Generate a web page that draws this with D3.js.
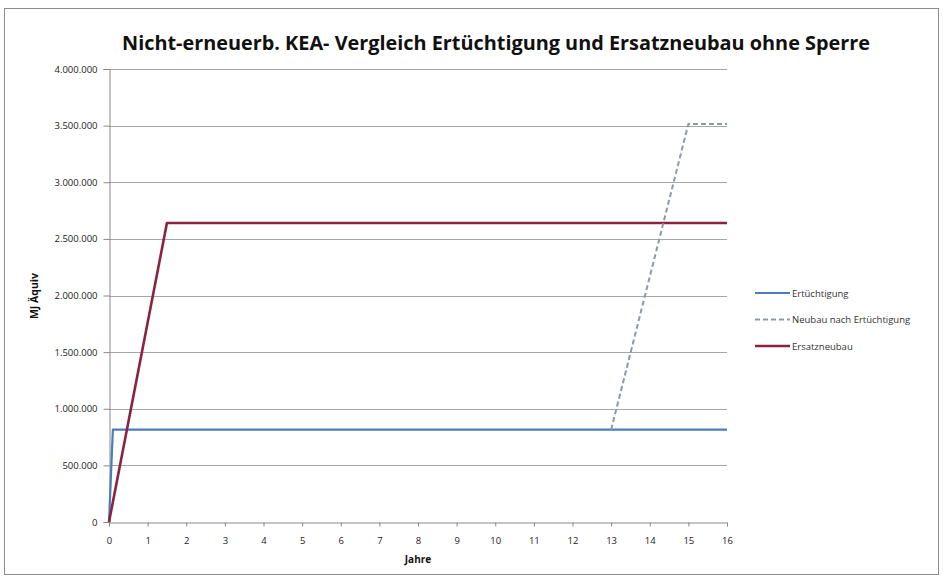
<!DOCTYPE html>
<html><head><meta charset="utf-8">
<script src="https://cdn.jsdelivr.net/npm/d3@7"></script>
<style>body{margin:0;background:#fff}</style>
</head><body>
<svg id="c" width="943" height="579"></svg>
<script>
const title = "Nicht-erneuerb. KEA- Vergleich Ertüchtigung und Ersatzneubau ohne Sperre";
const yTicks = [0, 500000, 1000000, 1500000, 2000000, 2500000, 3000000, 3500000, 4000000];
const xTicks = [0,1,2,3,4,5,6,7,8,9,10,11,12,13,14,15,16];
const seriesNames = ["Ertüchtigung", "Neubau nach Ertüchtigung", "Ersatzneubau"];
const ertX = [0, 0.1, 16];
const ertY = [0, 815000, 815000];
const neuX = [13, 15, 16];
const neuY = [815000, 3515000, 3515000];
const ersX = [0, 1.5, 16];
const ersY = [0, 2640000, 2640000];

const svg = d3.select("#c");
const fmt = v => d3.format(",")(v).replace(/,/g, ".");
const x = d3.scaleLinear().domain([0,16]).range([109,727]);
const y = d3.scaleLinear().domain([0,4000000]).range([522,69]);

svg.append("rect").attr("x",4.5).attr("y",8.5).attr("width",934).attr("height",566)
  .attr("fill","#fff").attr("stroke","#8c8c8c").attr("stroke-width",1);

svg.append("text").attr("x",496).attr("y",50).attr("text-anchor","middle")
  .attr("font-family","Open Sans, sans-serif").attr("font-weight","bold")
  .attr("font-size",19).attr("textLength",748).attr("lengthAdjust","spacingAndGlyphs")
  .attr("fill","#111").text(title);

// gridlines
svg.append("g").selectAll("line").data(yTicks.slice(1)).join("line")
  .attr("x1",x(0)).attr("x2",x(16)).attr("y1",d=>Math.round(y(d))+0.5).attr("y2",d=>Math.round(y(d))+0.5)
  .attr("stroke","#a6a6a6").attr("stroke-width",1);

const yAxis = d3.axisLeft(y).tickValues(yTicks).tickFormat(fmt).tickSize(6).tickPadding(6);
const gy = svg.append("g").attr("transform","translate(109.5,0)").call(yAxis);
const xAxis = d3.axisBottom(x).tickValues(xTicks).tickSize(4).tickPadding(11);
const gx = svg.append("g").attr("transform","translate(0,522.5)").call(xAxis);
[gy,gx].forEach(g=>{
  g.selectAll(".domain").attr("stroke","#888");
  g.selectAll(".tick line").attr("stroke","#888");
  g.selectAll("text").attr("font-family","Open Sans, sans-serif").attr("font-size",9.5).attr("fill","#222");
});

svg.append("text").attr("transform","translate(38,296) rotate(-90)").attr("text-anchor","middle")
  .attr("font-family","Open Sans, sans-serif").attr("font-weight","bold").attr("font-size",10.5).attr("fill","#111").text("MJ Äquiv");
svg.append("text").attr("x",418).attr("y",563).attr("text-anchor","middle")
  .attr("font-family","Open Sans, sans-serif").attr("font-weight","bold").attr("font-size",10).attr("fill","#111").text("Jahre");

const line = d3.line().x(d=>x(d[0])).y(d=>y(d[1]));
const series = [
  {name:seriesNames[0], pts:d3.zip(ertX,ertY), color:"#4a7ebb", dash:null, w:2.2},
  {name:seriesNames[1], pts:d3.zip(neuX,neuY), color:"#8c9aa5", dash:"5,3", w:2},
  {name:seriesNames[2], pts:d3.zip(ersX,ersY), color:"#8b2340", dash:null, w:2.6}
];
const order = [0,2,1];
order.forEach(i=>{
  const s = series[i];
  svg.append("path").attr("d",line(s.pts)).attr("fill","none").attr("stroke",s.color)
    .attr("stroke-width",s.w).attr("stroke-dasharray",s.dash).attr("stroke-linejoin","round");
});

const lg = svg.append("g");
series.forEach((s,i)=>{
  const yy = 293 + i*26.5;
  lg.append("line").attr("x1",755).attr("x2",790).attr("y1",yy).attr("y2",yy)
    .attr("stroke",s.color).attr("stroke-width",s.w).attr("stroke-dasharray",s.dash);
  lg.append("text").attr("x",792).attr("y",yy+3.5).attr("font-family","Open Sans, sans-serif")
    .attr("font-size",9.5).attr("fill","#333").text(s.name);
});
</script>
</body></html>
